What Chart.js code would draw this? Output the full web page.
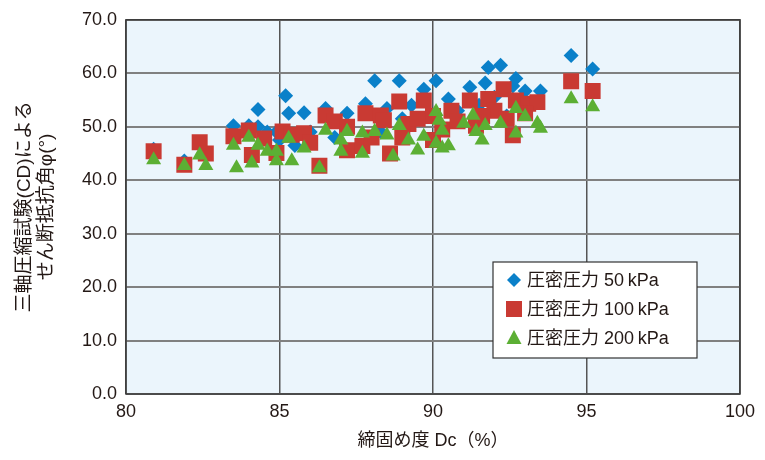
<!DOCTYPE html>
<html lang="ja">
<head>
<meta charset="UTF-8">
<title>締固め度とせん断抵抗角</title>
<script src="https://cdn.jsdelivr.net/npm/chart.js@4.4.5/dist/chart.umd.min.js"></script>
<style>
  body { margin: 0; background: #fff; }
</style>
</head>
<body>
<canvas id="myChart" width="765" height="460"></canvas>
<script>
    // 圧密圧力 50 kPa
    const dc50 = [80.9, 81.9, 83.5, 84.0, 84.3, 84.3, 84.6, 84.9, 85.2, 85.3, 85.8, 86.0, 86.5, 87.2, 87.8, 88.1, 88.5, 88.9, 89.3, 89.7,
        90.1, 90.5, 91.2, 91.7, 91.8, 92.2, 92.6, 92.7, 93.0, 93.5, 94.5, 95.2, 85.0, 86.8, 88.3, 89.0, 90.8, 91.5, 92.0, 92.4, 93.2, 85.5];
    const phi50 = [45.8, 43.6, 50.2, 50.2, 53.2, 50.0, 49.0, 49.0, 55.8, 52.5, 52.6, 49.0, 53.4, 52.5, 54.3, 58.6, 53.4, 58.6, 54.0, 57.0,
        58.6, 55.2, 57.4, 58.2, 61.1, 61.5, 57.6, 59.0, 56.7, 56.7, 63.3, 60.8, 47.5, 48.0, 49.0, 51.5, 53.0, 54.0, 55.5, 52.0, 54.0, 46.5];

    // 圧密圧力 100 kPa
    const dc100 = [80.9, 81.9, 82.4, 82.6, 83.5, 84.0, 84.1, 84.5, 84.9, 85.1, 85.4, 85.8, 86.3, 86.5, 86.8, 87.2, 87.2, 87.7, 87.8, 88.3,
        88.4, 88.6, 88.9, 89.2, 89.7, 90.0, 90.3, 90.6, 91.2, 91.4, 91.8, 92.0, 92.3, 92.6, 92.7, 93.1, 93.4, 94.5, 95.2,
        86.0, 88.0, 89.5, 90.8, 91.6, 92.4, 93.0, 89.0, 90.0];
    const phi100 = [45.4, 42.9, 47.1, 45.0, 48.2, 49.3, 44.7, 47.8, 45.1, 49.1, 48.5, 48.8, 42.7, 52.1, 51.0, 50.0, 45.6, 46.4, 52.5, 52.1,
        51.2, 45.0, 54.7, 50.5, 54.9, 52.0, 49.5, 53.0, 54.9, 50.2, 55.2, 53.0, 57.0, 48.4, 54.9, 54.3, 54.6, 58.5, 56.7,
        47.0, 48.0, 51.5, 51.0, 52.0, 51.5, 52.5, 48.0, 47.5];

    // 圧密圧力 200 kPa
    const dc200 = [80.9, 81.9, 82.4, 82.6, 83.5, 83.6, 84.0, 84.1, 84.3, 84.6, 84.9, 84.9, 85.3, 85.4, 85.8, 86.3, 86.5, 87.0, 87.0, 87.2,
        87.7, 87.7, 88.1, 88.5, 88.7, 88.9, 89.2, 89.5, 89.7, 90.1, 90.1, 90.3, 90.3, 90.2, 90.5, 91.0, 91.3, 91.4, 91.6, 91.7,
        92.2, 92.7, 92.7, 93.0, 93.4, 93.5, 94.5, 95.2];
    const phi200 = [43.8, 42.7, 44.7, 42.7, 46.5, 42.3, 48.0, 43.2, 46.5, 45.4, 43.6, 45.4, 47.8, 43.6, 46.0, 42.3, 49.3, 47.5, 45.4, 49.1,
        48.8, 45.0, 49.1, 48.4, 44.5, 50.2, 47.5, 45.6, 48.2, 52.8, 46.9, 46.0, 49.3, 51.2, 46.4, 50.6, 52.1, 49.1, 47.5, 50.2,
        50.6, 53.4, 48.8, 51.9, 50.6, 49.7, 55.2, 53.7];

    const seriesLabels = ['圧密圧力 50\u2009kPa', '圧密圧力 100\u2009kPa', '圧密圧力 200\u2009kPa'];
    const colors = ['#0a80c9', '#c93a33', '#5caf34'];
    const textColor = '#231815';
    const fontFamily = '"Liberation Sans", "Noto Sans CJK JP", sans-serif';

    function toPoints(xs, ys) {
        return xs.map(function (x, i) { return {x: x, y: ys[i]}; });
    }

    const plotArea = {
        id: 'plotArea',
        beforeDraw: function (chart) {
            const a = chart.chartArea;
            const ctx = chart.ctx;
            ctx.save();
            ctx.fillStyle = '#ebf5fc';
            ctx.fillRect(a.left, a.top, a.right - a.left, a.bottom - a.top);
            ctx.restore();
        },
        afterDraw: function (chart) {
            const a = chart.chartArea;
            const ctx = chart.ctx;
            ctx.save();
            ctx.strokeStyle = '#3a3a3a';
            ctx.lineWidth = 1.5;
            ctx.strokeRect(a.left, a.top, a.right - a.left, a.bottom - a.top);

            // legend box
            const bx = 493, by = 262, bw = 204, bh = 96;
            ctx.fillStyle = '#ffffff';
            ctx.fillRect(bx, by, bw, bh);
            ctx.strokeStyle = '#333333';
            ctx.lineWidth = 1.2;
            ctx.strokeRect(bx, by, bw, bh);

            const rows = [280, 309, 338];
            const mx = 514;
            ctx.font = '18px ' + fontFamily;
            ctx.textBaseline = 'middle';
            for (let i = 0; i < 3; i++) {
                const y = rows[i];
                ctx.fillStyle = colors[i];
                ctx.beginPath();
                if (i === 0) {
                    ctx.moveTo(mx, y - 7);
                    ctx.lineTo(mx + 7, y);
                    ctx.lineTo(mx, y + 7);
                    ctx.lineTo(mx - 7, y);
                } else if (i === 1) {
                    ctx.rect(mx - 8, y - 8, 16, 16);
                } else {
                    ctx.moveTo(mx, y - 8);
                    ctx.lineTo(mx + 7.5, y + 6);
                    ctx.lineTo(mx - 7.5, y + 6);
                }
                ctx.closePath();
                ctx.fill();
                ctx.fillStyle = textColor;
                ctx.fillText(seriesLabels[i], 527, y + 1);
            }
            ctx.restore();
        }
    };

    const config = {
        type: 'scatter',
        data: {
            datasets: [{
                label: seriesLabels[0],
                data: toPoints(dc50, phi50),
                pointStyle: 'rectRot',
                pointRadius: 7.5,
                pointHoverRadius: 7.5,
                backgroundColor: colors[0],
                borderWidth: 0,
                order: 3
            }, {
                label: seriesLabels[1],
                data: toPoints(dc100, phi100),
                pointStyle: 'rect',
                pointRadius: 11.3,
                pointHoverRadius: 11.3,
                backgroundColor: colors[1],
                borderWidth: 0,
                order: 2
            }, {
                label: seriesLabels[2],
                data: toPoints(dc200, phi200),
                pointStyle: 'triangle',
                pointRadius: 8.7,
                pointHoverRadius: 8.7,
                backgroundColor: colors[2],
                borderWidth: 0,
                order: 1
            }]
        },
        options: {
            responsive: false,
            animation: false,
            layout: {
                padding: {top: 15, right: 25, left: 0, bottom: 0}
            },
            scales: {
                x: {
                    type: 'linear',
                    min: 80,
                    max: 100,
                    ticks: {
                        stepSize: 5,
                        color: textColor,
                        font: {size: 18, family: fontFamily},
                        padding: 7
                    },
                    grid: {
                        color: '#555555',
                        lineWidth: 1.5,
                        drawTicks: false
                    },
                    border: {display: false},
                    title: {
                        display: true,
                        text: '締固め度 Dc（%）',
                        color: textColor,
                        font: {size: 18, family: fontFamily},
                        padding: {top: 0, bottom: 8}
                    },
                    afterFit: function (scale) { scale.height = 66; }
                },
                y: {
                    min: 0,
                    max: 70,
                    ticks: {
                        stepSize: 10,
                        color: textColor,
                        font: {size: 18, family: fontFamily},
                        padding: 9,
                        callback: function (v) { return v.toFixed(1); }
                    },
                    grid: {
                        color: '#808080',
                        lineWidth: 2,
                        drawTicks: false
                    },
                    border: {display: false},
                    title: {
                        display: true,
                        text: ['三軸圧縮試験(CD)による', 'せん断抵抗角φ(°)'],
                        color: textColor,
                        font: {size: 19, family: fontFamily, lineHeight: 1.2},
                        padding: {top: 13, bottom: 0}
                    },
                    afterFit: function (scale) { scale.width = 126; }
                }
            },
            plugins: {
                legend: {display: false},
                tooltip: {enabled: false}
            }
        },
        plugins: [plotArea]
    };

    const ctx = document.getElementById('myChart').getContext('2d');
    const myChart = new Chart(ctx, config);
</script>
</body>
</html>
